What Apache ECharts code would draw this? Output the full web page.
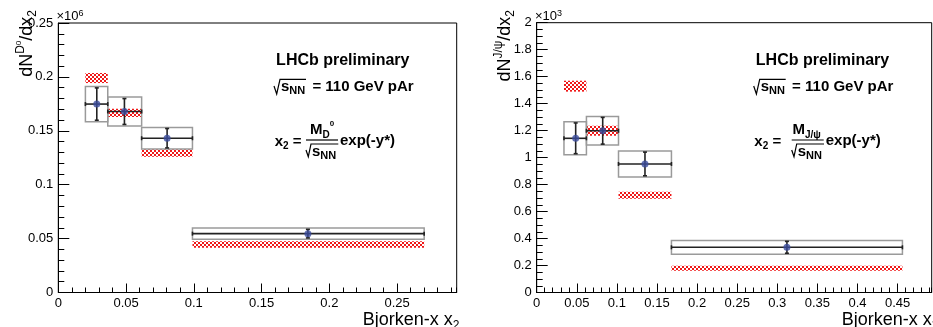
<!DOCTYPE html>
<html>
<head>
<meta charset="utf-8">
<script src="https://cdn.jsdelivr.net/npm/echarts@6/dist/echarts.min.js"></script>
<style>
  html, body { margin: 0; padding: 0; background: #fff; }
  #chart { width: 933px; height: 327px; }
</style>
</head>
<body>
<div id="chart"></div>
<script>
// D0 panel, values in units of 1e6
const d0BinLow = [0.020, 0.0365, 0.0615, 0.099];
const d0BinHigh = [0.0365, 0.0615, 0.099, 0.270];
const d0X = [0.0284, 0.0488, 0.0803, 0.1842];
const d0Y = [0.1748, 0.1679, 0.1431, 0.0546];
const d0Stat = [0.0150, 0.0120, 0.0090, 0.0040];
const d0Syst = [0.0163, 0.0135, 0.0099, 0.0053];
const d0ModelLow = [0.1943, 0.1627, 0.1260, 0.0416];
const d0ModelHigh = [0.2036, 0.1704, 0.1329, 0.0475];

// J/psi panel, values in units of 1e3
const jpsiBinLow = [0.034, 0.062, 0.102, 0.168];
const jpsiBinHigh = [0.062, 0.102, 0.168, 0.456];
const jpsiX = [0.0486, 0.0823, 0.135, 0.312];
const jpsiY = [1.143, 1.199, 0.953, 0.335];
const jpsiStat = [0.114, 0.099, 0.088, 0.044];
const jpsiSyst = [0.122, 0.106, 0.096, 0.051];
const jpsiModelLow = [1.489, 1.162, 0.695, 0.162];
const jpsiModelHigh = [1.570, 1.236, 0.747, 0.199];

const FONT = '"Liberation Sans", Arial, Helvetica, sans-serif';

// red checkered fill used for the model boxes
const cv = document.createElement('canvas');
cv.width = 4; cv.height = 4;
const cx = cv.getContext('2d');
cx.fillStyle = '#fff'; cx.fillRect(0, 0, 4, 4);
cx.fillStyle = '#f01818'; cx.fillRect(0, 0, 2, 2); cx.fillRect(2, 2, 2, 2);
const checker = { image: cv, repeat: 'repeat' };

function majorX(grid, max, interval) {
  return {
    gridIndex: grid, type: 'value', position: 'bottom', min: 0, max: max, interval: interval,
    axisLine: { lineStyle: { color: '#000', width: 1 } },
    axisTick: { inside: true, length: 9, lineStyle: { color: '#000' } },
    axisLabel: { color: '#000', fontSize: 13, fontFamily: FONT, margin: 4, showMaxLabel: false },
    splitLine: { show: false }
  };
}
function minorX(grid, max, interval) {
  return {
    gridIndex: grid, type: 'value', position: 'bottom', min: 0, max: max, interval: interval,
    axisLine: { show: false },
    axisTick: { inside: true, length: 5, lineStyle: { color: '#000' } },
    axisLabel: { show: false }, splitLine: { show: false }
  };
}
function majorY(grid, max, interval) {
  return {
    gridIndex: grid, type: 'value', position: 'left', min: 0, max: max, interval: interval,
    axisLine: { lineStyle: { color: '#000', width: 1 } },
    axisTick: { inside: true, length: 11, lineStyle: { color: '#000' } },
    axisLabel: { color: '#000', fontSize: 13, fontFamily: FONT, margin: 5 },
    splitLine: { show: false }
  };
}
function minorY(grid, max, interval) {
  return {
    gridIndex: grid, type: 'value', position: 'left', min: 0, max: max, interval: interval,
    axisLine: { show: false },
    axisTick: { inside: true, length: 6, lineStyle: { color: '#000' } },
    axisLabel: { show: false }, splitLine: { show: false }
  };
}

function modelSeries(axis, low, high, yl, yh) {
  return {
    type: 'custom', xAxisIndex: axis, yAxisIndex: axis, silent: true, z: 1,
    data: low.map((v, i) => [v, high[i], yl[i], yh[i]]),
    renderItem: (params, api) => {
      const a = api.coord([api.value(0), api.value(3)]);
      const b = api.coord([api.value(1), api.value(2)]);
      return { type: 'rect', shape: { x: a[0], y: a[1], width: b[0] - a[0], height: b[1] - a[1] },
               style: { fill: checker } };
    }
  };
}

function systSeries(axis, low, high, y, syst) {
  return {
    type: 'custom', xAxisIndex: axis, yAxisIndex: axis, silent: true, z: 2,
    data: low.map((v, i) => [v, high[i], y[i], syst[i]]),
    renderItem: (params, api) => {
      const a = api.coord([api.value(0), api.value(2) + api.value(3)]);
      const b = api.coord([api.value(1), api.value(2) - api.value(3)]);
      return { type: 'rect', shape: { x: a[0], y: a[1], width: b[0] - a[0], height: b[1] - a[1] },
               style: { fill: 'none', stroke: '#9a9a9a', lineWidth: 1.5 } };
    }
  };
}

function errorSeries(axis, low, high, x, y, stat) {
  return {
    type: 'custom', xAxisIndex: axis, yAxisIndex: axis, silent: true, z: 3,
    data: low.map((v, i) => [v, high[i], x[i], y[i], stat[i]]),
    renderItem: (params, api) => {
      const l = api.coord([api.value(0), api.value(3)]);
      const r = api.coord([api.value(1), api.value(3)]);
      const t = api.coord([api.value(2), api.value(3) + api.value(4)]);
      const b = api.coord([api.value(2), api.value(3) - api.value(4)]);
      const st = { stroke: '#222', lineWidth: 1.6 };
      const ln = (x1, y1, x2, y2) => ({ type: 'line', shape: { x1, y1, x2, y2 }, style: st });
      return { type: 'group', children: [
        ln(l[0], l[1], r[0], r[1]),
        ln(l[0], l[1] - 2, l[0], l[1] + 2),
        ln(r[0], r[1] - 2, r[0], r[1] + 2),
        ln(t[0], t[1], b[0], b[1]),
        ln(t[0] - 2, t[1], t[0] + 2, t[1]),
        ln(b[0] - 2, b[1], b[0] + 2, b[1])
      ] };
    }
  };
}

function pointSeries(axis, x, y) {
  return {
    type: 'scatter', xAxisIndex: axis, yAxisIndex: axis, z: 4, silent: true,
    symbol: 'circle', symbolSize: 7, itemStyle: { color: '#3b4c9e' },
    data: x.map((v, i) => [v, y[i]])
  };
}

const base = { fontSize: 15, fontWeight: 'bold', lineHeight: 20, fontFamily: FONT, fill: '#000' };
const subB = (size) => ({ fontSize: size, fontWeight: 'bold', lineHeight: size, fontFamily: FONT, fill: '#000', verticalAlign: 'bottom' });
const txt = (x, y, text, rich, align, va) => ({
  type: 'text', x: x, y: y, silent: true,
  style: { text: text, rich: rich, align: align || 'left', verticalAlign: va || 'bottom', fill: '#000', font: 'bold 15px ' + FONT }
});
const poly = (pts) => ({ type: 'polyline', silent: true, shape: { points: pts }, style: { stroke: '#000', lineWidth: 1.2, fill: 'none' } });

function labelBlock(dx, fx, numText, numRich, numCenter) {
  const els = [];
  els.push({ type: 'text', x: 342.8 + dx, y: 61, silent: true,
             style: { text: 'LHCb preliminary', font: 'bold 16px ' + FONT, fill: '#000', align: 'center', verticalAlign: 'middle' } });
  els.push(poly([[274 + dx, 86], [276.7 + dx, 94], [280 + dx, 79.3], [306 + dx, 79.3]]));
  els.push(txt(281 + dx, 96.5, '{b|s}{s|NN}{p| = 110 GeV pAr}',
    { b: base, s: subB(11), p: Object.assign({}, base, { padding: [0, 0, 0, 3] }) }));
  els.push(txt(301.5 + dx, 151.5, '{b|x}{s|2}{b| =}', { b: base, s: subB(10) }, 'right'));
  els.push({ type: 'line', silent: true, shape: { x1: 306 + fx, y1: 140, x2: 338 + fx, y2: 140 }, style: { stroke: '#000', lineWidth: 1.2 } });
  els.push(txt(numCenter, 139.8, numText, numRich, 'center'));
  els.push(poly([[306 + fx, 150], [308.3 + fx, 156.7], [311 + fx, 144], [338.3 + fx, 144]]));
  els.push(txt(312 + fx, 161.4, '{b|s}{s|NN}', { b: base, s: subB(11) }));
  els.push({ type: 'text', x: 340 + fx, y: 140.5, silent: true,
             style: { text: 'exp(-y*)', font: 'bold 15px ' + FONT, fill: '#000', align: 'left', verticalAlign: 'middle' } });
  return els;
}

const axTitle = { fontSize: 18, lineHeight: 24, fontFamily: FONT, fill: '#000' };
const axSup = (size) => ({ fontSize: size, lineHeight: size, fontFamily: FONT, fill: '#000', verticalAlign: 'top' });
const axSub = (size) => ({ fontSize: size, lineHeight: size, fontFamily: FONT, fill: '#000', verticalAlign: 'bottom' });

const graphics = [].concat(
  labelBlock(0, 0, '{b|M}{s|D}{t|0}', { b: base, s: subB(10), t: Object.assign(axSup(8), { lineHeight: 14, fontWeight: 'bold' }) }, 322),
  labelBlock(479.7, 485.7, '{b|M}{s|J/ψ}', { b: base, s: subB(10) }, 806.7),
  [
    { type: 'text', x: 39, y: 10, rotation: Math.PI / 2, silent: true,
      style: { text: '{b|dN}{u|D}{v|0}{b|/dx}{d|2}', align: 'right', verticalAlign: 'bottom',
               rich: { b: axTitle, u: axSup(12), v: axSup(8), d: axSub(12) } } },
    { type: 'text', x: 517, y: 10, rotation: Math.PI / 2, silent: true,
      style: { text: '{b|dN}{u|J/ψ}{b|/dx}{d|2}', align: 'right', verticalAlign: 'bottom',
               rich: { b: axTitle, u: axSup(12), d: axSub(12) } } },
    { type: 'text', x: 362.7, y: 332, silent: true,
      style: { text: '{b|Bjorken-x x}{d|2}', align: 'left', verticalAlign: 'bottom', rich: { b: axTitle, d: axSub(12) } } },
    { type: 'text', x: 841.7, y: 332, silent: true,
      style: { text: '{b|Bjorken-x x}{d|2}', align: 'left', verticalAlign: 'bottom', rich: { b: axTitle, d: axSub(12) } } },
    { type: 'text', x: 56.5, y: 23, silent: true,
      style: { text: '{a|×10}{s|6}', align: 'left', verticalAlign: 'bottom',
               rich: { a: { fontSize: 13, lineHeight: 14, fontFamily: FONT, fill: '#000' }, s: axSup(9) } } },
    { type: 'text', x: 535, y: 23, silent: true,
      style: { text: '{a|×10}{s|3}', align: 'left', verticalAlign: 'bottom',
               rich: { a: { fontSize: 13, lineHeight: 14, fontFamily: FONT, fill: '#000' }, s: axSup(9) } } }
  ]
);

const chart = echarts.init(document.getElementById('chart'), null, { renderer: 'canvas' });
chart.setOption({
  animation: false,
  backgroundColor: '#fff',
  grid: [
    { left: 58.3, top: 23, right: 476.3, bottom: 34.5, show: true, borderColor: '#000', borderWidth: 1 },
    { left: 536.7, top: 22.7, right: 1.3, bottom: 34.5, show: true, borderColor: '#000', borderWidth: 1 }
  ],
  xAxis: [majorX(0, 0.294, 0.05), minorX(0, 0.294, 0.01), majorX(1, 0.4925, 0.05), minorX(1, 0.4925, 0.01)],
  yAxis: [majorY(0, 0.25, 0.05), minorY(0, 0.25, 0.01), majorY(1, 2, 0.2), minorY(1, 2, 0.05)],
  series: [
    modelSeries(0, d0BinLow, d0BinHigh, d0ModelLow, d0ModelHigh),
    systSeries(0, d0BinLow, d0BinHigh, d0Y, d0Syst),
    errorSeries(0, d0BinLow, d0BinHigh, d0X, d0Y, d0Stat),
    pointSeries(0, d0X, d0Y),
    modelSeries(2, jpsiBinLow, jpsiBinHigh, jpsiModelLow, jpsiModelHigh),
    systSeries(2, jpsiBinLow, jpsiBinHigh, jpsiY, jpsiSyst),
    errorSeries(2, jpsiBinLow, jpsiBinHigh, jpsiX, jpsiY, jpsiStat),
    pointSeries(2, jpsiX, jpsiY)
  ],
  graphic: graphics
});
</script>
</body>
</html>
